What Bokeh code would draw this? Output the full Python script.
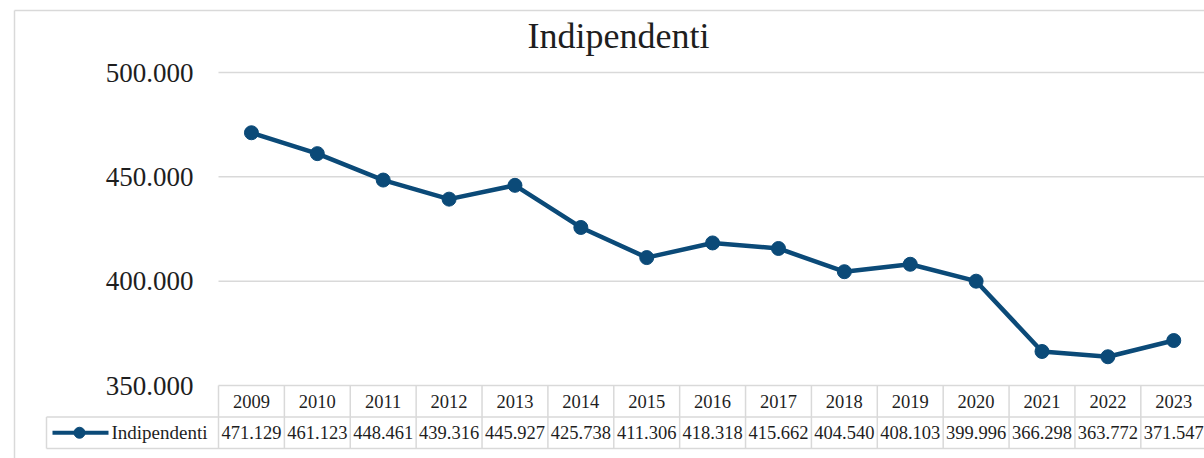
from bokeh.plotting import figure
from bokeh.models import Range1d, FixedTicker, Label
from bokeh.core.properties import value
from bokeh.embed import file_html
from bokeh.resources import INLINE

# ---- data ----
years = ["2009", "2010", "2011", "2012", "2013", "2014", "2015", "2016",
         "2017", "2018", "2019", "2020", "2021", "2022", "2023"]
indipendenti = [471129, 461123, 448461, 439316, 445927, 425738, 411306, 418318,
                415662, 404540, 408103, 399996, 366298, 363772, 371547]
y_ticks = [350000, 400000, 450000, 500000]
series_name = "Indipendenti"
chart_title = "Indipendenti"


def it_fmt(v):
    return f"{int(v):,}".replace(",", ".")


# ---- layout (pixels) ----
W, H = 1204, 458
PAGE = 0
COL_W = 65.88          # width of one category column
PLOT_LEFT = 218        # left edge of plot area
BASE_PX = 385          # pixel of lowest tick
PX_PER_STEP = 104.33   # pixels per tick step
STEP = y_ticks[1] - y_ticks[0]
UPP = STEP / PX_PER_STEP

GRID = "#d9d9d9"
BLUE = "#0b4a78"
TXT = "#1e1e1e"
FONT = "Liberation Serif"


def X(px):
    return (px - (PLOT_LEFT + COL_W / 2)) / COL_W


def Y(py):
    return y_ticks[0] - (py - BASE_PX) * UPP


p = figure(width=W, height=H,
           x_range=Range1d(X(PAGE), X(PAGE + W)),
           y_range=Range1d(Y(PAGE + H), Y(PAGE)),
           x_axis_type=None,
           output_backend="svg", toolbar_location=None,
           min_border=0, min_border_left=0, min_border_right=0,
           min_border_top=0, min_border_bottom=0)
p.outline_line_color = None
p.background_fill_color = "white"
p.border_fill_color = "white"
p.ygrid.visible = False

# y axis
ax = p.yaxis[0]
ax.fixed_location = -0.5
ax.ticker = FixedTicker(ticks=y_ticks, minor_ticks=[])
ax.axis_line_color = None
ax.major_tick_line_color = None
ax.minor_tick_line_color = None
ax.major_tick_out = 0
ax.major_tick_in = 0
ax.major_label_standoff = 25
ax.major_label_text_font = FONT
ax.major_label_text_font_size = "27px"
ax.major_label_text_color = TXT
ax.major_label_overrides = {t: it_fmt(t) for t in y_ticks}

n = len(years)
xs = list(range(n))
right_x = X(PAGE + W + 20)

# outer chart border
p.segment(x0=[X(14), X(14)], y0=[Y(10), Y(10)], x1=[X(14), right_x], y1=[Y(PAGE + H + 20), Y(10)],
          line_color=GRID, line_width=1.5)

# gridlines
p.segment(x0=[-0.5] * len(y_ticks), x1=[right_x] * len(y_ticks), y0=y_ticks, y1=y_ticks,
          line_color=GRID, line_width=1.5)

# data table grid
row_top, row_mid, row_bot = BASE_PX, 416.5, 448
leg_left = X(46)
p.segment(x0=[leg_left, leg_left], x1=[right_x, right_x],
          y0=[Y(row_mid), Y(row_bot)], y1=[Y(row_mid), Y(row_bot)],
          line_color=GRID, line_width=1.5)
vx = [k - 0.5 for k in range(n + 1)]
p.segment(x0=vx, x1=vx, y0=[Y(row_top)] * len(vx), y1=[Y(row_bot)] * len(vx),
          line_color=GRID, line_width=1.5)
p.segment(x0=[leg_left], x1=[leg_left], y0=[Y(row_mid)], y1=[Y(row_bot)],
          line_color=GRID, line_width=1.5)

# data table text
p.text(x=xs, y=[Y((row_top + row_mid) / 2)] * n, text=years,
       text_font=value(FONT), text_font_size="18.5px", text_color=TXT,
       text_align="center", text_baseline="middle")
p.text(x=xs, y=[Y((row_mid + row_bot) / 2)] * n, text=[it_fmt(v) for v in indipendenti],
       text_font=value(FONT), text_font_size="18.5px", text_color=TXT,
       text_align="center", text_baseline="middle")

# legend key in table
ly = Y((row_mid + row_bot) / 2)
p.line(x=[X(52), X(108)], y=[ly, ly], line_color=BLUE, line_width=4)
p.scatter(x=[X(79)], y=[ly], size=11, color=BLUE)
p.text(x=[X(111)], y=[ly], text=[series_name],
       text_font=value(FONT), text_font_size="19px", text_color=TXT,
       text_align="left", text_baseline="middle")

# series
p.line(x=xs, y=indipendenti, line_color=BLUE, line_width=4.5, line_join="round")
p.scatter(x=xs, y=indipendenti, size=14, color=BLUE)

# title
p.add_layout(Label(x=X(618), y=Y(35), text=chart_title, text_font=FONT,
                   text_font_size="36px", text_color=TXT,
                   text_align="center", text_baseline="middle"))

open("out.html", "w").write(file_html(p, INLINE))
